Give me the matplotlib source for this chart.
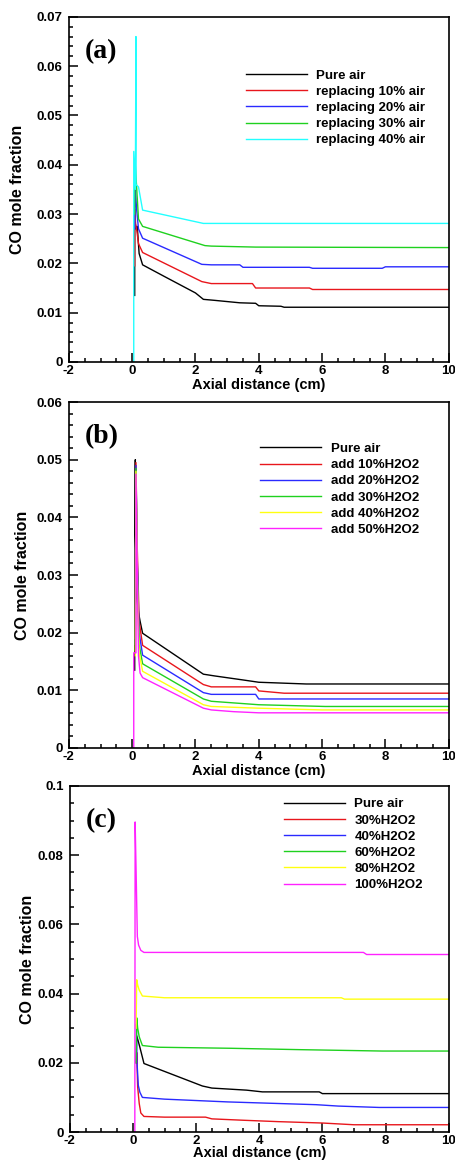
import numpy as np
import matplotlib.pyplot as plt
from matplotlib.ticker import MultipleLocator, AutoMinorLocator, FuncFormatter

plt.rcParams['font.family'] = ['Liberation Sans', 'DejaVu Sans']
plt.rcParams['font.weight'] = 'bold'
plt.rcParams['axes.unicode_minus'] = False

# ---- panel (a): replacing air ----
a_labels = ['Pure air', 'replacing 10% air', 'replacing 20% air',
            'replacing 30% air', 'replacing 40% air']
a_colors = ['black', '#e8161c', '#2a2aff', '#1fd11f', '#22ffff']
a_x = [
    [0.08, 0.08, 0.12, 0.16, 0.22, 0.33, 1.0, 2.0, 2.25, 2.6, 3.4, 3.9, 4.0, 4.7, 4.8, 10],
    [0.08, 0.08, 0.11, 0.15, 0.2, 0.33, 2.2, 2.5, 3.8, 3.9, 5.6, 5.7, 10],
    [0.08, 0.1, 0.14, 0.2, 0.33, 2.2, 2.5, 3.4, 3.5, 5.6, 5.7, 7.9, 8.0, 10],
    [0.08, 0.09, 0.14, 0.2, 0.33, 2.3, 2.5, 3.9, 10],
    [0.05, 0.05, 0.1, 0.12, 0.12, 0.2, 0.33, 2.25, 10],
]
a_y = [
    [0.0135, 0.029, 0.027, 0.0275, 0.022, 0.0197, 0.0174, 0.0140, 0.0127, 0.0125, 0.0120, 0.0119, 0.0114, 0.0113, 0.0111, 0.0111],
    [0.0195, 0.031, 0.028, 0.0265, 0.024, 0.0222, 0.0163, 0.0159, 0.0159, 0.0150, 0.0150, 0.0147, 0.0147],
    [0.027, 0.035, 0.031, 0.027, 0.0251, 0.0198, 0.0197, 0.0197, 0.0192, 0.0192, 0.0190, 0.0190, 0.0193, 0.0193],
    [0.030, 0.041, 0.0355, 0.029, 0.0275, 0.0236, 0.0235, 0.0233, 0.0232],
    [0.0, 0.0427, 0.035, 0.066, 0.036, 0.0355, 0.0308, 0.0281, 0.0281],
]

# ---- panel (b): adding H2O2 ----
b_labels = ['Pure air', 'add 10%H2O2', 'add 20%H2O2', 'add 30%H2O2',
            'add 40%H2O2', 'add 50%H2O2']
b_colors = ['black', '#e8161c', '#2a2aff', '#1fd11f', '#ffff10', '#ff22ff']
b_x = [
    [0.08, 0.08, 0.1, 0.1, 0.15, 0.2, 0.25, 0.33, 2.25, 2.6, 3.5, 4.0, 5.5, 10],
    [0.1, 0.12, 0.16, 0.22, 0.33, 2.25, 2.5, 3.9, 4.0, 4.8, 10],
    [0.1, 0.12, 0.16, 0.22, 0.33, 2.25, 2.5, 3.9, 4.0, 10],
    [0.1, 0.12, 0.16, 0.22, 0.33, 2.25, 2.5, 4.0, 6.1, 10],
    [0.1, 0.12, 0.16, 0.22, 0.33, 2.25, 2.5, 4.0, 6.0, 10],
    [0.05, 0.05, 0.12, 0.12, 0.2, 0.25, 0.33, 2.25, 2.5, 3.2, 4.0, 10],
]
b_y = [
    [0.0135, 0.0155, 0.050, 0.037, 0.026, 0.0235, 0.022, 0.0199, 0.0128, 0.0125, 0.0118, 0.0114, 0.0111, 0.0111],
    [0.019, 0.0495, 0.035, 0.022, 0.0178, 0.0110, 0.0106, 0.0106, 0.0099, 0.0095, 0.0095],
    [0.018, 0.049, 0.033, 0.020, 0.0161, 0.0096, 0.0093, 0.0093, 0.0085, 0.0085],
    [0.017, 0.0485, 0.032, 0.018, 0.0146, 0.0085, 0.0081, 0.0075, 0.0072, 0.0072],
    [0.016, 0.048, 0.030, 0.0165, 0.0133, 0.0075, 0.0072, 0.0069, 0.0066, 0.0066],
    [0.0, 0.0165, 0.0165, 0.0475, 0.016, 0.013, 0.0122, 0.0069, 0.0066, 0.0063, 0.0061, 0.0061],
]

# ---- panel (c): H2O2 concentration ----
c_labels = ['Pure air', '30%H2O2', '40%H2O2', '60%H2O2', '80%H2O2', '100%H2O2']
c_colors = b_colors
c_x = [
    [0.1, 0.12, 0.17, 0.22, 0.35, 2.2, 2.5, 3.6, 4.1, 5.9, 6.0, 10],
    [0.12, 0.12, 0.15, 0.2, 0.25, 0.35, 1.0, 2.3, 2.5, 3.5, 4.6, 6.0, 7.0, 10],
    [0.11, 0.13, 0.17, 0.22, 0.3, 1.0, 2.0, 3.0, 4.4, 5.8, 6.5, 7.8, 10],
    [0.1, 0.12, 0.15, 0.2, 0.3, 0.8, 3.1, 5.3, 7.9, 10],
    [0.1, 0.12, 0.15, 0.2, 0.3, 1.0, 6.6, 6.7, 10],
    [0.06, 0.07, 0.1, 0.12, 0.14, 0.18, 0.25, 0.35, 7.3, 7.4, 10],
]
c_y = [
    [0.020, 0.0278, 0.0262, 0.0245, 0.0198, 0.0133, 0.0127, 0.0121, 0.0116, 0.0116, 0.0111, 0.0111],
    [0.020, 0.023, 0.013, 0.0082, 0.0055, 0.0045, 0.0043, 0.0043, 0.0038, 0.0034, 0.0030, 0.0026, 0.0021, 0.0021],
    [0.031, 0.020, 0.0135, 0.0115, 0.0100, 0.0095, 0.0091, 0.0087, 0.0083, 0.0079, 0.0075, 0.0071, 0.0071],
    [0.020, 0.033, 0.0300, 0.0275, 0.0250, 0.0245, 0.0242, 0.0238, 0.0234, 0.0234],
    [0.030, 0.044, 0.0425, 0.041, 0.0393, 0.0388, 0.0388, 0.0384, 0.0384],
    [0.0, 0.0896, 0.0757, 0.066, 0.0565, 0.054, 0.0525, 0.0519, 0.0519, 0.0513, 0.0513],
]

panels = [
    ('(a)', a_x, a_y, a_labels, a_colors, 0.07, 0.01, 0.002, (0.466, 0.848), -0.116, -0.046),
    ('(b)', b_x, b_y, b_labels, b_colors, 0.06, 0.01, 0.002, (0.503, 0.882), -0.103, -0.046),
    ('(c)', c_x, c_y, c_labels, c_colors, 0.1, 0.02, 0.005, (0.565, 0.965), -0.092, -0.039),
]
# axes rectangles in figure fraction (left, bottom, width, height)
rects = [(0.151, 0.6885, 0.833, 0.297),
         (0.151, 0.3563, 0.833, 0.2977),
         (0.153, 0.0258, 0.831, 0.2978)]

fig = plt.figure(figsize=(4.56, 11.62), dpi=100)

for (tag, xs, ys, labels, colors, ymax, ymaj, ymin, leg_pos, ylab_x, xlab_y), rect in zip(panels, rects):
    ax = fig.add_axes(rect)
    for x, y, lab, col in zip(xs, ys, labels, colors):
        ax.plot(x, y, color=col, lw=1.0, label=lab)

    ax.set_xlim(-2, 10)
    ax.set_ylim(0, ymax)
    ax.xaxis.set_major_locator(MultipleLocator(2))
    ax.xaxis.set_minor_locator(AutoMinorLocator(4))
    ax.yaxis.set_major_locator(MultipleLocator(ymaj))
    ax.yaxis.set_minor_locator(MultipleLocator(ymin))
    ax.yaxis.set_major_formatter(FuncFormatter(lambda v, p: f'{v:g}'))
    ax.tick_params(which='both', direction='in', top=False, right=False,
                   labelsize=9.5, width=1.1)
    ax.tick_params(which='major', length=6.5, pad=2.5)
    ax.tick_params(axis='y', which='major', pad=4.5)
    ax.tick_params(which='minor', length=3)
    for s in ax.spines.values():
        s.set_linewidth(1.2)

    ax.set_xlabel('Axial distance (cm)', fontsize=10.5, fontweight='bold')
    ax.xaxis.set_label_coords(0.5, xlab_y)
    ax.set_ylabel('CO mole fraction', fontsize=11.5, fontweight='bold')
    ax.yaxis.set_label_coords(ylab_x, 0.5)

    ax.text(0.042, 0.9, tag, transform=ax.transAxes, fontsize=20,
            fontweight='bold', family=['Liberation Serif', 'DejaVu Serif'],
            ha='left', va='center')

    ax.legend(loc='upper left', bbox_to_anchor=leg_pos, frameon=False,
              fontsize=9.5, handlelength=4.6, handletextpad=0.75,
              labelspacing=0.3, borderpad=0, borderaxespad=0)

fig.savefig('out.png', dpi=100)
